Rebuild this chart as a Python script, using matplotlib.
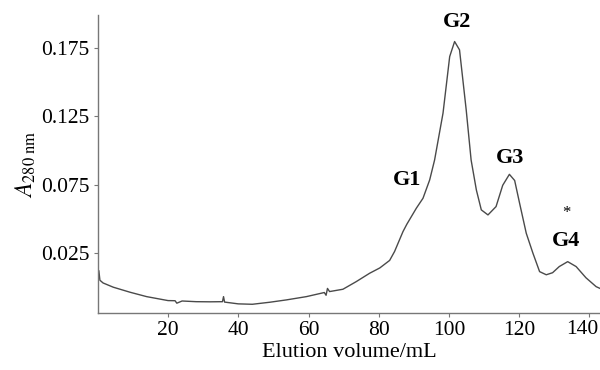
import matplotlib
matplotlib.use("Agg")
import matplotlib.pyplot as plt

plt.rcParams['font.family'] = ['Liberation Serif', 'DejaVu Serif']
plt.rcParams['mathtext.fontset'] = 'stix'

volume = [0, 0.3, 0.6, 1.5, 4.4, 9.2, 13.9, 20, 22, 22.5, 24, 28, 32, 35.5, 35.8, 36.1, 37, 40,
          44, 49, 53.7, 59.4, 64.5, 65, 65.4, 66, 69.8, 73.6, 77.4, 80.3, 83.1, 84.5,
          86.9, 88, 90.7, 92.6, 94.5, 95.9, 98.3, 100.2, 101.6, 103, 104.9, 106.3,
          107.8, 109.2, 111.1, 113.4, 115.3, 117.2, 118.7, 120.1, 122, 123.9, 125.8,
          127.7, 129.5, 131.4, 133.8, 136.2, 139, 141.9, 143]
absorbance = [0.004, 0.012, 0.005, 0.003, -0.0001, -0.0038, -0.007, -0.0099, -0.0100,
              -0.0118, -0.0102, -0.0107, -0.0108, -0.0107, -0.007, -0.011, -0.0113,
              -0.0123, -0.0126, -0.0111, -0.0094, -0.007, -0.004, -0.006, -0.001, -0.0033,
              -0.0016, 0.004, 0.0101, 0.014, 0.0195, 0.026, 0.0406, 0.046, 0.0577, 0.065,
              0.0784, 0.093, 0.1273, 0.1687, 0.1797, 0.1736, 0.1297, 0.093, 0.071, 0.0565,
              0.0528, 0.0589, 0.0745, 0.0825, 0.078, 0.0614, 0.0394, 0.0248, 0.0113, 0.009,
              0.0105, 0.015, 0.0186, 0.015, 0.0068, 0.0003, -0.001]

xticks = [20, 40, 60, 80, 100, 120, 140]
xtick_labels = ["20", "40", "60", "80", "100", "120", "140"]
yticks = [0.025, 0.075, 0.125, 0.175]
ytick_labels = ["0.025", "0.075", "0.125", "0.175"]

peak_labels = ["G1", "G2", "G3", "G4"]
peak_x = [88.2, 102.2, 117.3, 133.2]
peak_y = [0.0784, 0.194, 0.0947, 0.034]

fig = plt.figure(figsize=(6, 3.7), dpi=100)
ax = fig.add_axes([0.163, 0.154, 0.837, 0.805])
ax.plot(volume, absorbance, color='#4a4a4a', lw=1.0)

ax.set_xlim(0, 143)
ax.set_ylim(-0.019, 0.199)
ax.set_xticks(xticks)
# the last label is drawn separately so it stays inside the picture
ax.set_xticklabels(xtick_labels[:-1] + [""])
ax.set_yticks(yticks)
ax.set_yticklabels(ytick_labels)
for s in ['top', 'right']:
    ax.spines[s].set_visible(False)
for s in ['left', 'bottom']:
    ax.spines[s].set_color('#777777')
    ax.spines[s].set_linewidth(1.0)
ax.tick_params(axis='both', length=3, color='#777777', labelsize=15.5, pad=3)

ax.annotate(xtick_labels[-1], xy=(xticks[-1], 0), xycoords=('data', 'axes fraction'),
            xytext=(-5, -5.2), textcoords='offset points', ha='center', va='top',
            fontsize=15.5)

ax.set_xlabel('Elution volume/mL', fontsize=16, labelpad=2)
ax.set_ylabel(r'$A_{\mathrm{280\ nm}}$', fontsize=17, labelpad=2)

for lab, x, y in zip(peak_labels, peak_x, peak_y):
    ax.text(x, y, lab, fontsize=16, fontweight='bold', ha='center', va='center')
ax.text(133.5, 0.054, '*', fontsize=12, ha='center', va='center')

fig.savefig('out.png', dpi=100)
